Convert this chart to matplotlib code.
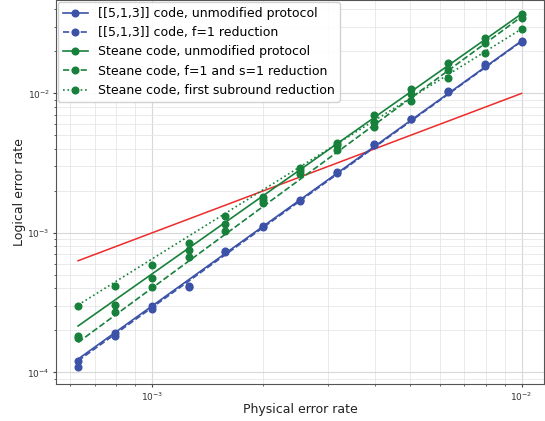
import matplotlib
matplotlib.use("Agg")
import matplotlib.pyplot as plt
import numpy as np

# physical error rates (shared x for all series)
p_phys = [0.000631, 0.000794, 0.001, 0.00126, 0.00158, 0.002, 0.00251,
          0.00316, 0.00398, 0.00501, 0.00631, 0.00794, 0.01]

five_unmod = [0.000121, 0.000193, 0.000300, 0.000418, 0.000746, 0.001128, 0.00173,
              0.002724, 0.004357, 0.00659, 0.01040, 0.01618, 0.02379]
five_f1 = [0.0001095, 0.000183, 0.000284, 0.000411, 0.000726, 0.001110, 0.001706,
           0.002667, 0.004237, 0.00652, 0.01018, 0.01566, 0.02348]
steane_unmod = [0.000183, 0.000304, 0.000477, 0.000759, 0.001161, 0.00182, 0.00291,
                0.00442, 0.00696, 0.01083, 0.01654, 0.02508, 0.03719]
steane_fs1 = [0.000177, 0.000269, 0.000411, 0.000668, 0.001030, 0.00165, 0.00277,
              0.00427, 0.00623, 0.00997, 0.01483, 0.02309, 0.03476]
steane_sub = [0.000300, 0.000418, 0.000585, 0.000848, 0.001316, 0.00173, 0.00265,
              0.00390, 0.00574, 0.00877, 0.01299, 0.01941, 0.02911]

# power-law fit values at the two ends of the p range
fit_lo = [0.0001245, 0.000121, 0.000215, 0.000164, 0.000304]
fit_hi = [0.0238, 0.0236, 0.0372, 0.0355, 0.0290]

labels = ["[[5,1,3]] code, unmodified protocol",
          "[[5,1,3]] code, f=1 reduction",
          "Steane code, unmodified protocol",
          "Steane code, f=1 and s=1 reduction",
          "Steane code, first subround reduction"]

BLUE = "#3b52a8"
GREEN = "#17813c"
RED = "#ee2a2a"


def main():
    fig = plt.figure(figsize=(5.45, 4.21), dpi=100)
    ax = fig.add_axes([0.1028, 0.0879, 0.8954, 0.912])

    x = np.array(p_phys)
    ends = [x[0], x[-1]]
    series = [
        (five_unmod, BLUE, "-"),
        (five_f1, BLUE, "--"),
        (steane_unmod, GREEN, "-"),
        (steane_fs1, GREEN, "--"),
        (steane_sub, GREEN, ":"),
    ]
    for i, ((y, c, ls), lab) in enumerate(zip(series, labels)):
        ax.plot(ends, [fit_lo[i], fit_hi[i]], color=c, ls=ls, lw=1.2, zorder=3)
        ax.plot(x, y, "o", color=c, ms=4.8, zorder=4)
        # legend handle: line + marker
        ax.plot([], [], color=c, ls=ls, lw=1.2, marker="o", ms=4.8, label=lab)

    # break-even line p_L = p
    ax.plot(x, x, color=RED, lw=1.1, zorder=2)

    ax.set_xscale("log")
    ax.set_yscale("log")
    ax.set_xlim(5.5e-4, 1.15e-2)
    ax.set_ylim(8.25e-5, 4.67e-2)

    ax.grid(True, which="major", color="#d8d8d8", lw=0.8)
    ax.grid(True, which="minor", color="#e6e6e6", lw=0.6)
    ax.set_axisbelow(True)
    for s in ax.spines.values():
        s.set_color("#555555")
    ax.tick_params(which="both", labelsize=6.5, colors="#444444",
                   labelcolor="#333333", pad=2)
    ax.tick_params(which="major", length=2.5)
    ax.tick_params(which="minor", length=1.5)

    ax.set_xlabel("Physical error rate", fontsize=9, color="#222222", labelpad=0.5)
    ax.set_ylabel("Logical error rate", fontsize=9, color="#222222", labelpad=1)

    ax.legend(loc="upper left", fontsize=9, borderaxespad=0.15,
              framealpha=0.9, edgecolor="#cccccc")

    fig.savefig("out.png", dpi=100)
    plt.close(fig)


if __name__ == "__main__":
    main()
